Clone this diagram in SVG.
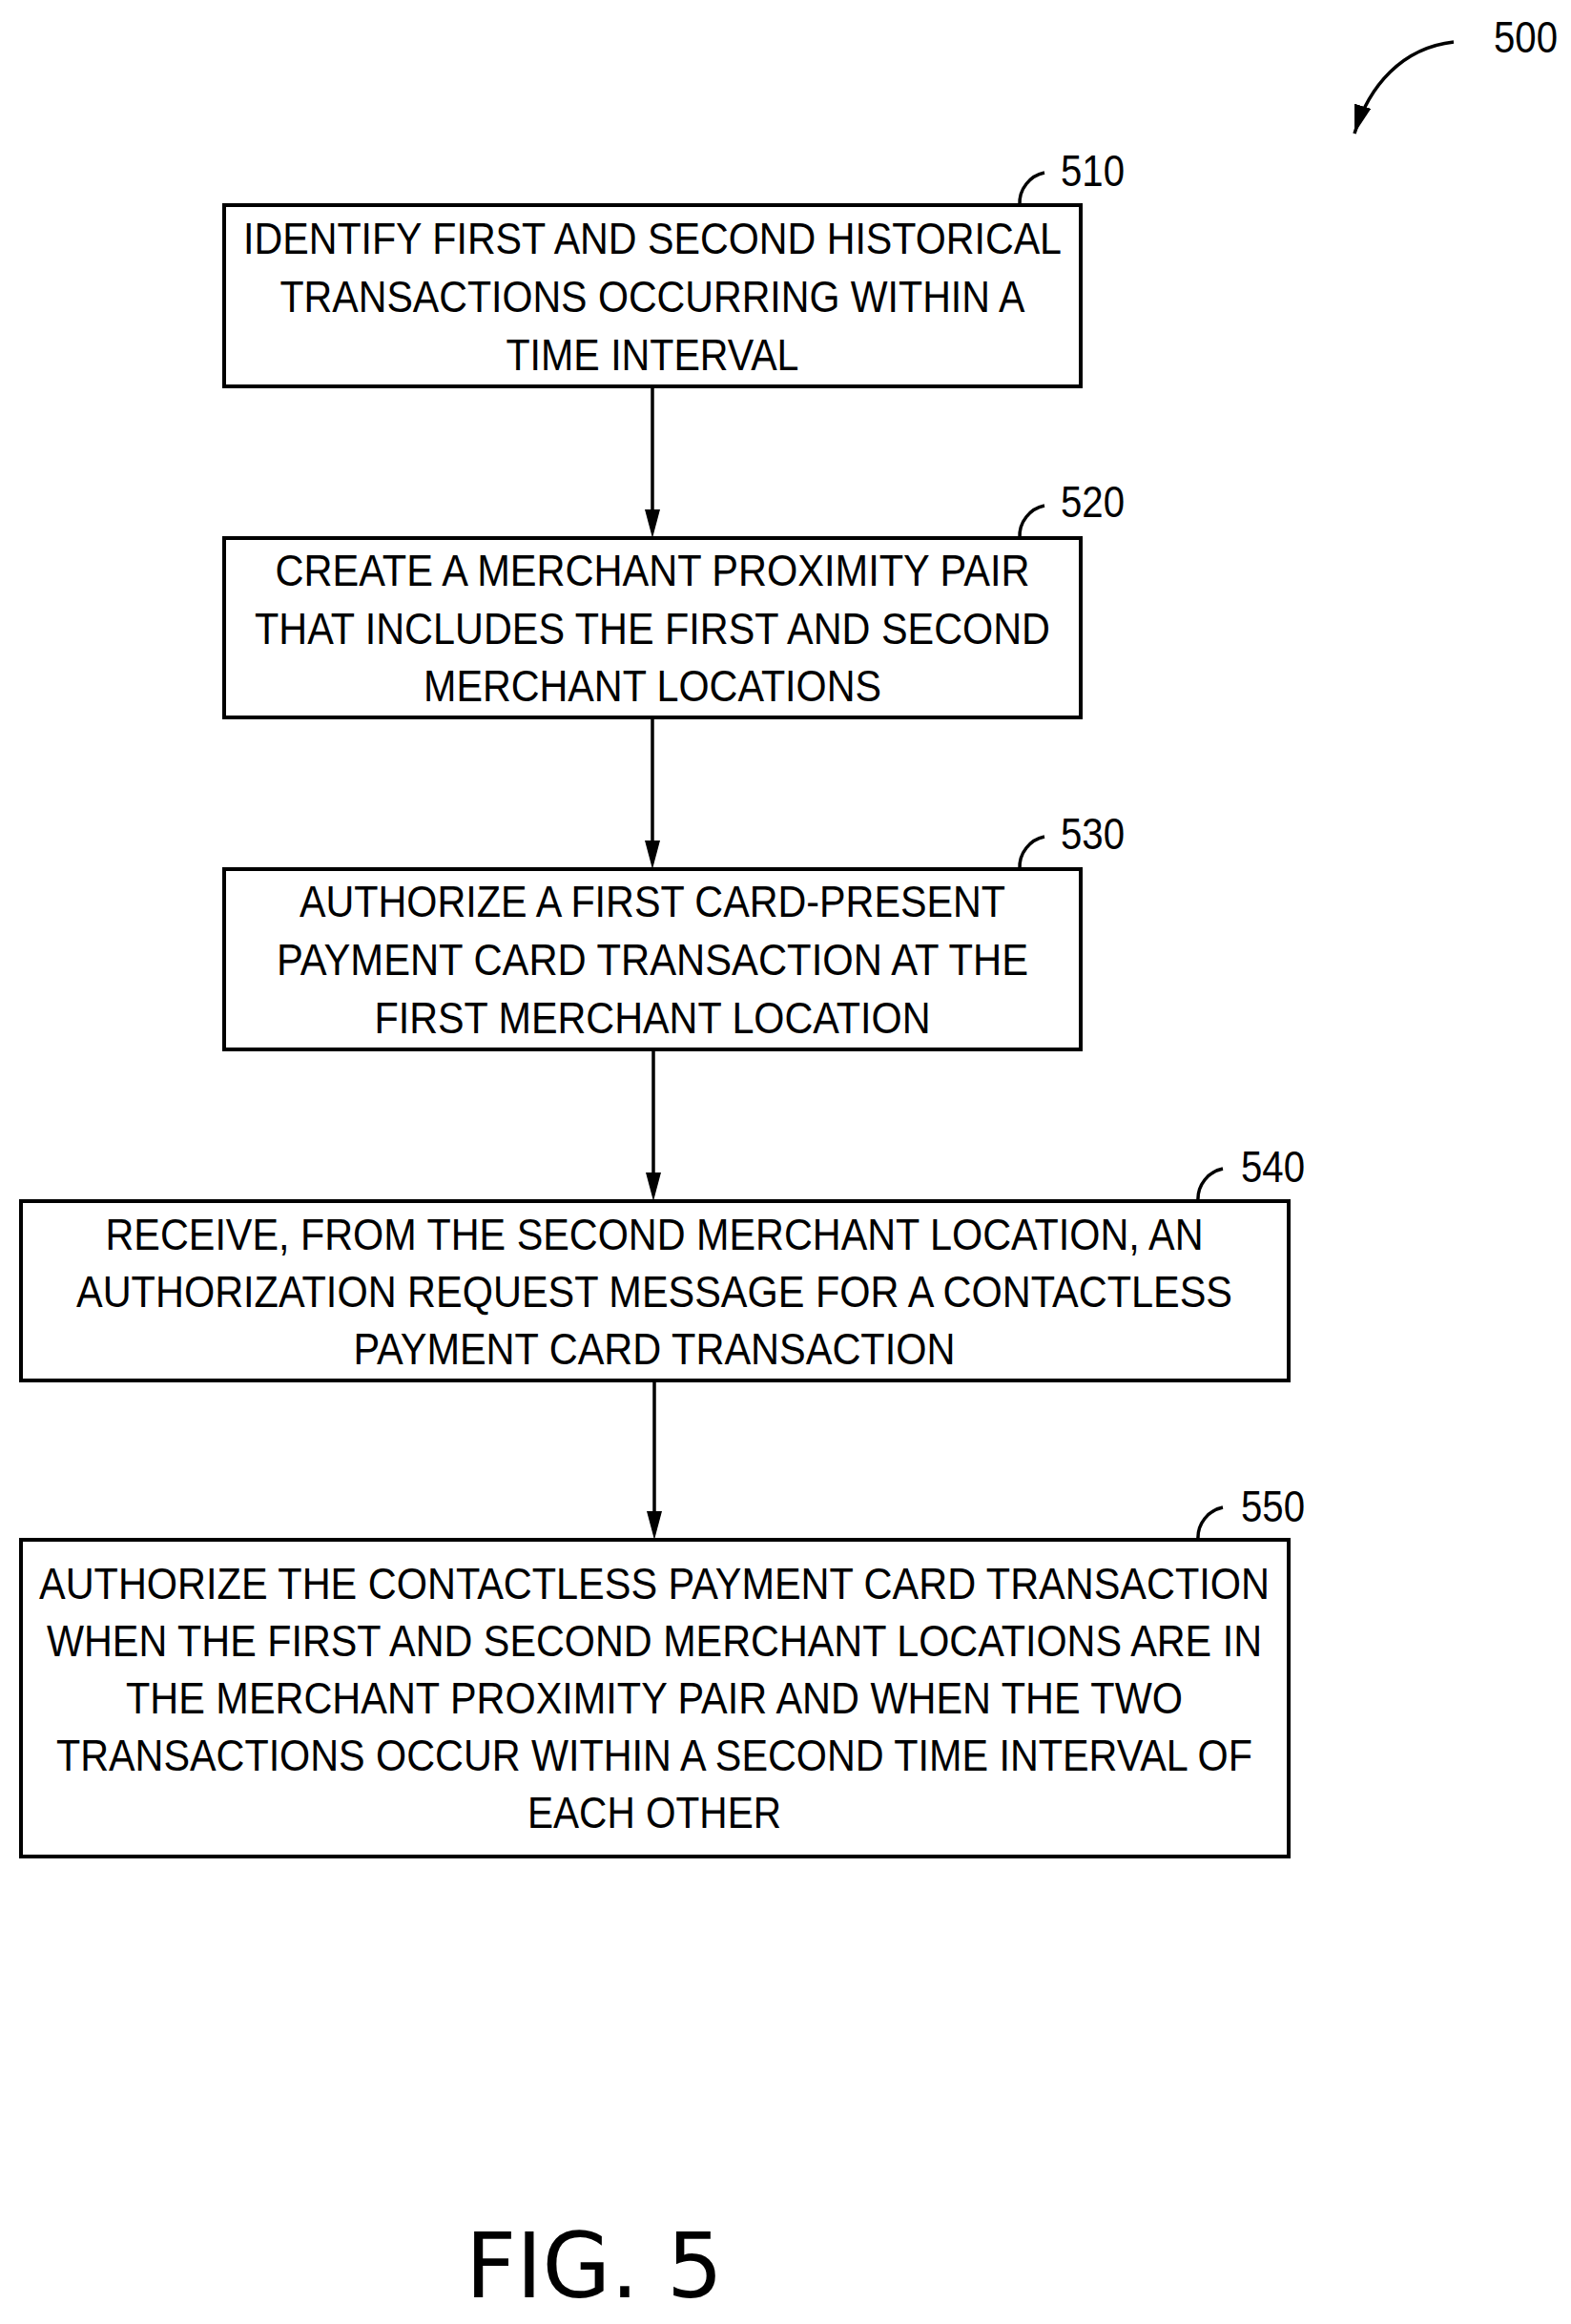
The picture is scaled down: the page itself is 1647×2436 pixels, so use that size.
<svg xmlns="http://www.w3.org/2000/svg" width="1647" height="2436" viewBox="0 0 1647 2436">
<style>
.box{fill:#fff;stroke:#000;stroke-width:4}
.t{font-family:"Liberation Sans",Arial,sans-serif;font-size:46px;text-anchor:middle;fill:#000}
.lb{font-family:"Liberation Sans",Arial,sans-serif;font-size:46px;fill:#000}
.ln{fill:none;stroke:#000;stroke-width:3.5}
</style>
<defs>
<marker id="ah2" markerWidth="30" markerHeight="18" refX="30" refY="9" orient="auto" markerUnits="userSpaceOnUse">
<path d="M0,0 L30,9 L0,18 Z" fill="#000"/>
</marker>
</defs>
<g id="ref500">
<text class="lb" x="1566" y="55" textLength="67" lengthAdjust="spacingAndGlyphs">500</text>
<path class="ln" d="M1524,44 C1470,50 1435,90 1420,140" marker-end="url(#ah2)"/>
</g>
<g id="connectors">
<line class="ln" x1="684" y1="405" x2="684" y2="536"/>
<path d="M676,534 L692,534 L684,564 Z"/>
<line class="ln" x1="684" y1="752" x2="684" y2="883"/>
<path d="M676,881 L692,881 L684,911 Z"/>
<line class="ln" x1="685" y1="1100" x2="685" y2="1231"/>
<path d="M677,1229 L693,1229 L685,1259 Z"/>
<line class="ln" x1="686" y1="1447" x2="686" y2="1586"/>
<path d="M678,1584 L694,1584 L686,1614 Z"/>
</g>
<g id="n510">
<rect class="box" x="235" y="215" width="898" height="190"/>
<text class="t" x="684" y="266" textLength="858" lengthAdjust="spacingAndGlyphs">IDENTIFY FIRST AND SECOND HISTORICAL</text>
<text class="t" x="684" y="327" textLength="781" lengthAdjust="spacingAndGlyphs">TRANSACTIONS OCCURRING WITHIN A</text>
<text class="t" x="684" y="388" textLength="307" lengthAdjust="spacingAndGlyphs">TIME INTERVAL</text>
<path class="ln" d="M1069,215 C1068,198 1080,184 1095,181"/>
<text class="lb" x="1112" y="195" textLength="67" lengthAdjust="spacingAndGlyphs">510</text>
</g>
<g id="n520">
<rect class="box" x="235" y="564" width="898" height="188"/>
<text class="t" x="684" y="614" textLength="791" lengthAdjust="spacingAndGlyphs">CREATE A MERCHANT PROXIMITY PAIR</text>
<text class="t" x="684" y="675" textLength="834" lengthAdjust="spacingAndGlyphs">THAT INCLUDES THE FIRST AND SECOND</text>
<text class="t" x="684" y="735" textLength="480" lengthAdjust="spacingAndGlyphs">MERCHANT LOCATIONS</text>
<path class="ln" d="M1069,564 C1068,547 1080,533 1095,530"/>
<text class="lb" x="1112" y="542" textLength="67" lengthAdjust="spacingAndGlyphs">520</text>
</g>
<g id="n530">
<rect class="box" x="235" y="911" width="898" height="189"/>
<text class="t" x="684" y="961" textLength="740" lengthAdjust="spacingAndGlyphs">AUTHORIZE A FIRST CARD-PRESENT</text>
<text class="t" x="684" y="1022" textLength="788" lengthAdjust="spacingAndGlyphs">PAYMENT CARD TRANSACTION AT THE</text>
<text class="t" x="684" y="1083" textLength="583" lengthAdjust="spacingAndGlyphs">FIRST MERCHANT LOCATION</text>
<path class="ln" d="M1069,911 C1068,894 1080,880 1095,877"/>
<text class="lb" x="1112" y="890" textLength="67" lengthAdjust="spacingAndGlyphs">530</text>
</g>
<g id="n540">
<rect class="box" x="22" y="1259" width="1329" height="188"/>
<text class="t" x="686" y="1310" textLength="1151" lengthAdjust="spacingAndGlyphs">RECEIVE, FROM THE SECOND MERCHANT LOCATION, AN</text>
<text class="t" x="686" y="1370" textLength="1212" lengthAdjust="spacingAndGlyphs">AUTHORIZATION REQUEST MESSAGE FOR A CONTACTLESS</text>
<text class="t" x="686" y="1430" textLength="631" lengthAdjust="spacingAndGlyphs">PAYMENT CARD TRANSACTION</text>
<path class="ln" d="M1256,1259 C1255,1242 1267,1228 1282,1225"/>
<text class="lb" x="1301" y="1239" textLength="67" lengthAdjust="spacingAndGlyphs">540</text>
</g>
<g id="n550">
<rect class="box" x="22" y="1614" width="1329" height="332"/>
<text class="t" x="686" y="1676" textLength="1290" lengthAdjust="spacingAndGlyphs">AUTHORIZE THE CONTACTLESS PAYMENT CARD TRANSACTION</text>
<text class="t" x="686" y="1736" textLength="1274" lengthAdjust="spacingAndGlyphs">WHEN THE FIRST AND SECOND MERCHANT LOCATIONS ARE IN</text>
<text class="t" x="686" y="1796" textLength="1108" lengthAdjust="spacingAndGlyphs">THE MERCHANT PROXIMITY PAIR AND WHEN THE TWO</text>
<text class="t" x="686" y="1856" textLength="1254" lengthAdjust="spacingAndGlyphs">TRANSACTIONS OCCUR WITHIN A SECOND TIME INTERVAL OF</text>
<text class="t" x="686" y="1916" textLength="266" lengthAdjust="spacingAndGlyphs">EACH OTHER</text>
<path class="ln" d="M1256,1614 C1255,1597 1267,1583 1282,1580"/>
<text class="lb" x="1301" y="1595" textLength="67" lengthAdjust="spacingAndGlyphs">550</text>
</g>
<text x="623" y="2408" font-family="DejaVu Sans, sans-serif" font-size="95" text-anchor="middle" textLength="270" lengthAdjust="spacingAndGlyphs">FIG. 5</text>
</svg>
